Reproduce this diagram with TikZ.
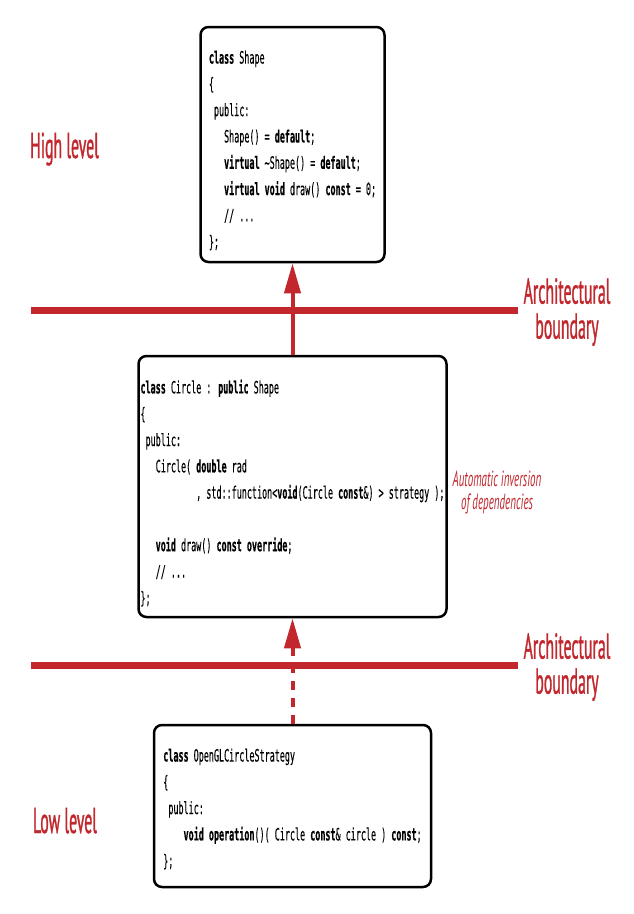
\documentclass[tikz,border=0pt]{standalone}
\usepackage{fontspec}
\newfontfamily\codefont[FakeStretch=0.495, UprightFeatures={FakeBold=0.12}, BoldFeatures={FakeBold=0.5}]{DejaVu Sans Mono}
\newfontfamily\lblfont[FakeStretch=0.44, FakeBold=0.8]{PT Sans}
\newfontfamily\ilblfont[FakeStretch=0.5]{PT Sans}
\usetikzlibrary{arrows.meta}
\definecolor{archred}{RGB}{193,39,45}
\tikzset{
  codebox/.style={draw=black, line width=2.5pt, rounded corners=8pt, align=left, inner sep=0pt,
    font={\codefont\fontsize{17}{26.3}\selectfont}},
  bound/.style={draw=archred, line width=7pt},
  lbl/.style={text=archred, font={\lblfont\fontsize{36}{35}\selectfont}, align=center, inner sep=0pt},
  ilbl/.style={text=archred, font={\ilblfont\itshape\fontsize{22}{23}\selectfont}, align=center, inner sep=0pt},
  dep/.style={draw=archred, line width=4pt, -{Triangle[length=30pt,width=16pt]}},
}
\begin{document}
\begin{tikzpicture}[x=1pt,y=-1pt]
\useasboundingbox[fill=white] (0,0) rectangle (634,914);

\coordinate (b1l) at (31,310);
\coordinate (b1r) at (518,310);
\coordinate (b2l) at (31,665);
\coordinate (b2r) at (518,665);
\draw[bound] (b1l) -- (b1r);
\draw[bound] (b2l) -- (b2r);

\node[codebox, minimum width=184pt, minimum height=235pt] (shape) at (292.5,144.5) {%
\rule{0pt}{25pt}\textbf{class} Shape\\
\{\\
~public:\\
~~~Shape() = \textbf{default};\\
~~~\textbf{virtual} \textasciitilde Shape() = \textbf{default};\\
~~~\textbf{virtual} \textbf{void} draw() \textbf{const} = 0;\\
~~~// ...\\
\};};

\node[codebox, minimum width=308pt, minimum height=261pt] (circle) at (292.5,486.5) {%
\rule{0pt}{27pt}\textbf{class} Circle : \textbf{public} Shape\\
\{\\
~public:\\
~~~Circle( \textbf{double} rad\\
~~~~~~~~~~~, std::function<\textbf{void}(Circle \textbf{const}\&) > strategy );\\
~\\
~~~\textbf{void} draw() \textbf{const} \textbf{override};\\
~~~// ...\\
\};};

\node[codebox, minimum width=277pt, minimum height=162pt] (strategy) at (292.5,806) {%
\rule{0pt}{19pt}\textbf{class} OpenGLCircleStrategy\\
\{\\
~public:\\
~~~~\textbf{void} \textbf{operation}()( Circle \textbf{const}\& circle ) \textbf{const};\\
\};};

\draw[dep] (circle.north) -- (shape.south);
\draw[dep, dash pattern=on 9pt off 8pt] (strategy.north) -- (circle.south);

\node[lbl, anchor=base] (hi) at (64.5,158) {High level};
\node[lbl, anchor=base] (lo) at (65,833) {Low level};
\node[lbl] (ab1) at (567,312) {Architectural\\boundary};
\node[lbl] (ab2) at (567,667) {Architectural\\boundary};
\node[ilbl] (inv) at (497,492) {Automatic inversion\\of dependencies};
\end{tikzpicture}
\end{document}
